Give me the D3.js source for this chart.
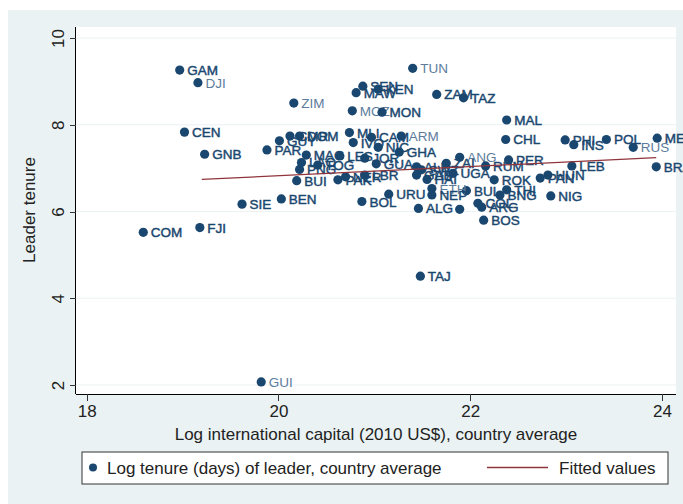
<!DOCTYPE html>
<html>
<head>
<meta charset="utf-8">
<script src="https://cdn.jsdelivr.net/npm/d3@7.9.0/dist/d3.min.js"></script>
<style>
  body { margin: 0; background: #fff; }
  svg { display: block; font-family: "Liberation Sans", Arial, Helvetica, sans-serif; }
</style>
</head>
<body>
<svg id="chart" width="683" height="504"></svg>
<script>
// country codes, log international capital (x) and log leader tenure (y)
const codes = ['GAM','DJI','ZIM','CEN','GNB','PAR','TUN','SEN','MAW','KEN',
  'ZAM','TAZ','MOZ','MON','MAL','CHL','PHI','INS','POL','RUS',
  'MEX','BRA','LEB','PER','ANG','RUM','UGA','ZAI','ALB','GHA',
  'ARM','NIC','IVO','MLI','CAM','MAG','LES','JOR','GUA','PNG',
  'TOG','LAO','BUI','PAK','LBR','NER','URU','BOL','SIE','BEN',
  'COM','FJI','GUI','TAJ','ALG','','COL','ARG','BOS','BUL',
  'ETH','NEP','SWZ','GAB','HAI','ROK','THI','BNG','NIG','PAN',
  'HUN','GUY','CMR','DOM'];
const capital = [18.97,19.16,20.16,19.02,19.23,19.88,21.40,20.88,20.81,21.04,
  21.65,21.93,20.77,21.08,22.38,22.37,22.99,23.08,23.42,23.70,
  23.95,23.94,23.06,22.40,21.89,22.16,21.82,21.75,21.44,21.26,
  21.28,21.04,20.78,20.74,20.97,20.29,20.64,20.90,21.02,20.22,
  20.41,20.24,20.19,20.62,20.90,20.70,21.15,20.87,19.62,20.03,
  18.59,19.18,19.82,21.48,21.46,21.89,22.08,22.12,22.14,21.96,
  21.60,21.60,21.49,21.44,21.55,22.25,22.38,22.31,22.84,22.73,
  22.81,20.01,20.12,20.22];
const tenure = [9.26,8.97,8.50,7.83,7.32,7.42,9.30,8.89,8.74,8.82,
  8.70,8.62,8.32,8.29,8.11,7.66,7.65,7.54,7.66,7.48,
  7.69,7.03,7.05,7.19,7.25,7.05,6.88,7.11,7.03,7.37,
  7.74,7.48,7.59,7.82,7.71,7.30,7.28,7.23,7.10,6.97,
  7.07,7.13,6.71,6.73,6.84,6.80,6.40,6.23,6.17,6.29,
  5.52,5.63,2.07,4.51,6.07,6.05,6.19,6.10,5.80,6.48,
  6.53,6.38,6.96,6.84,6.74,6.73,6.50,6.38,6.36,6.77,
  6.84,7.63,7.74,7.74];
// countries appearing in only one observation (their labels are not overplotted)
const singleObs = ['DJI','ZIM','TUN','MOZ','RUS','ANG','ARM','GUI','ETH'];

// fitted values line end points
const fitX = [19.20, 23.94];
const fitY = [6.74, 7.24];

const xTicks = [18, 20, 22, 24];
const yTicks = [2, 4, 6, 8, 10];

const navy = '#1a476f';
const maroon = '#90353b';
const bg = '#eaf2f3';

const svg = d3.select('#chart');

// outer background
svg.append('rect').attr('x', 8).attr('y', 10).attr('width', 675).attr('height', 494).attr('fill', bg);

const plot = { left: 75.5, right: 676, top: 27, bottom: 394 };
svg.append('rect')
  .attr('x', plot.left).attr('y', plot.top)
  .attr('width', plot.right - plot.left).attr('height', plot.bottom - plot.top)
  .attr('fill', '#fff');

const x = d3.scaleLinear().domain([18, 24]).range([86.7, 662]);
const y = d3.scaleLinear().domain([2, 10]).range([385, 38]);

// gridlines
svg.append('g').selectAll('line').data(yTicks).join('line')
  .attr('x1', plot.left).attr('x2', plot.right)
  .attr('y1', d => y(d)).attr('y2', d => y(d))
  .attr('stroke', bg).attr('stroke-width', 1.2);

// axes
const yAxis = svg.append('g').attr('transform', `translate(${plot.left},0)`)
  .call(d3.axisLeft(y).tickValues(yTicks).tickFormat(d3.format('d')).tickSize(6).tickSizeOuter(0));
yAxis.select('.domain').attr('d', `M0,${plot.top}V${plot.bottom}`).attr('stroke', '#000');
yAxis.selectAll('.tick line').attr('stroke', '#333');
yAxis.selectAll('.tick text')
  .attr('font-size', 17).attr('fill', '#222')
  .attr('text-anchor', 'middle')
  .attr('x', 0).attr('dy', 0)
  .attr('transform', 'translate(-12,0) rotate(-90)');

const xAxis = svg.append('g').attr('transform', `translate(0,${plot.bottom})`)
  .call(d3.axisBottom(x).tickValues(xTicks).tickFormat(d3.format('d')).tickSize(7).tickPadding(4).tickSizeOuter(0));
xAxis.select('.domain').attr('d', `M${plot.left},0H${plot.right}`).attr('stroke', '#000');
xAxis.selectAll('.tick line').attr('stroke', '#333');
xAxis.selectAll('.tick text').attr('font-size', 17).attr('fill', '#222');

svg.selectAll('.domain, .tick line').attr('shape-rendering', 'crispEdges');
svg.selectAll('g').attr('font-family', null);

// axis titles
svg.append('text')
  .attr('transform', 'translate(35,210) rotate(-90)')
  .attr('text-anchor', 'middle').attr('font-size', 17).attr('fill', '#222')
  .text('Leader tenure');
svg.append('text')
  .attr('x', 376).attr('y', 440)
  .attr('text-anchor', 'middle').attr('font-size', 17).attr('fill', '#222')
  .text('Log international capital (2010 US$), country average');

// points with labels
const pts = codes.map((c, i) => ({ code: c, cap: capital[i], ten: tenure[i] }));
const pg = svg.append('g');
pts.forEach(d => {
  const single = singleObs.includes(d.code);
  pg.append('circle')
    .attr('cx', x(d.cap)).attr('cy', y(d.ten)).attr('r', 4.6)
    .attr('fill', navy);
  if (d.code) {
    pg.append('text')
      .attr('x', x(d.cap) + 7.5).attr('y', y(d.ten) + 5)
      .attr('font-size', 13.5)
      .attr('fill', single ? '#5d7c9c' : navy)
      .attr('stroke', single ? 'none' : navy)
      .attr('stroke-width', single ? 0 : 0.45)
      .text(d.code);
  }
});

// fitted line
svg.append('line')
  .attr('x1', x(fitX[0])).attr('y1', y(fitY[0]))
  .attr('x2', x(fitX[1])).attr('y2', y(fitY[1]))
  .attr('stroke', maroon).attr('stroke-width', 1.3);

// legend
const lg = svg.append('g');
lg.append('rect').attr('x', 82).attr('y', 452).attr('width', 586).attr('height', 32)
  .attr('fill', '#fff').attr('stroke', '#333').attr('stroke-width', 1);
lg.append('circle').attr('cx', 93).attr('cy', 467.5).attr('r', 4).attr('fill', navy);
lg.append('text').attr('x', 107).attr('y', 474).attr('font-size', 17).attr('fill', '#222')
  .text('Log tenure (days) of leader, country average');
lg.append('line').attr('x1', 487).attr('x2', 548).attr('y1', 467.5).attr('y2', 467.5)
  .attr('stroke', maroon).attr('stroke-width', 1.3);
lg.append('text').attr('x', 559).attr('y', 474).attr('font-size', 17).attr('fill', '#222')
  .text('Fitted values');
</script>
</body>
</html>
